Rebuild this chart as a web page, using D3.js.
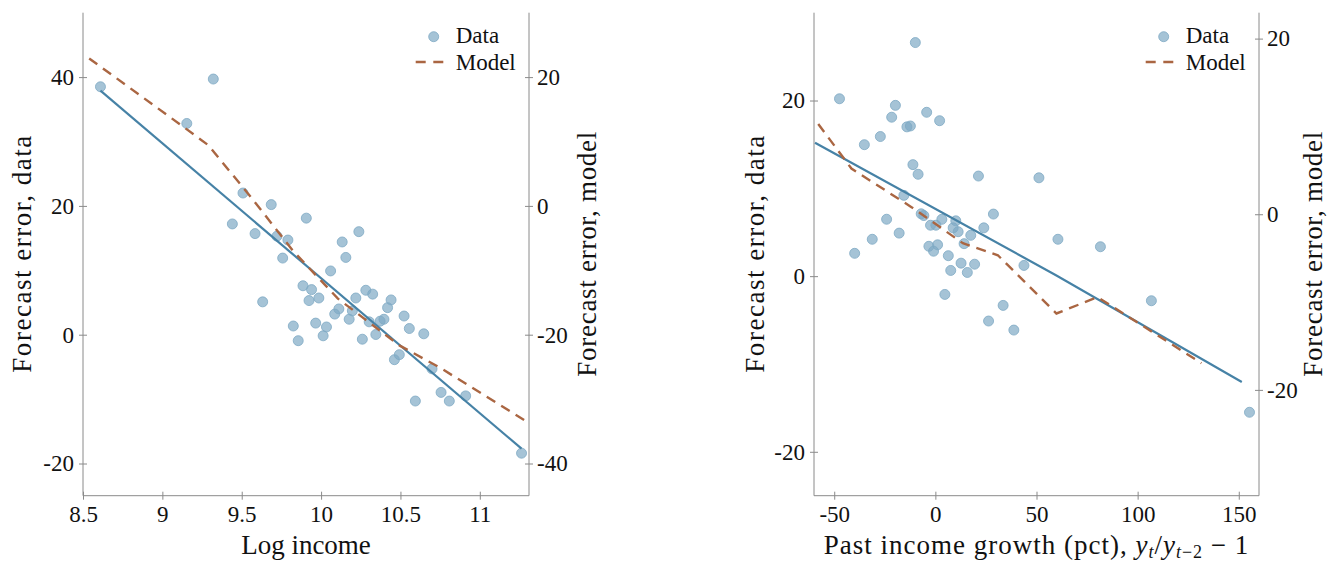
<!DOCTYPE html>
<html><head><meta charset="utf-8">
<script src="https://cdn.jsdelivr.net/npm/d3@7"></script>
<style>
html,body{margin:0;padding:0;background:#fff;}
svg text{font-family:"Liberation Serif","Times New Roman",serif;}
</style></head>
<body><svg id="c" width="1330" height="561"></svg>
<script>
// ---------- Left panel data ----------
const logIncome = [8.61,9.321,9.154,9.508,9.686,9.441,9.907,9.584,9.722,9.791,10.133,10.238,9.758,10.156,10.060,9.886,9.940,9.632,9.924,9.986,10.219,10.282,10.325,10.441,10.419,10.112,10.086,10.197,9.825,9.966,10.034,10.177,10.303,10.372,10.396,9.856,10.013,10.260,10.345,10.523,10.556,10.647,10.462,10.493,10.699,10.594,10.756,10.808,10.911,11.263];
const errDataL = [38.5,39.7,32.8,22.0,20.2,17.2,18.1,15.7,15.3,14.7,14.4,16.0,11.9,12.0,9.9,7.6,7.0,5.1,5.3,5.7,5.7,6.9,6.3,5.4,4.2,4.0,3.2,3.7,1.35,1.8,1.2,2.4,2.0,2.1,2.4,-0.93,-0.17,-0.70,0.03,2.9,0.96,0.14,-3.88,-3.10,-5.3,-10.3,-8.96,-10.3,-9.5,-18.4];
const fitXL = [8.61, 11.263];
const fitYL = [37.9, -17.7];
const modelXL = [8.539,9.137,9.288,9.552,9.823,10.106,10.496,10.748,11.302];
const modelYL = [22.9,12.2,9.46,1.55,-6.98,-14.4,-21.7,-25.1,-33.6];
const xTicksL = [8.5,9,9.5,10,10.5,11];
const yTicksL = [-20,0,20,40];
const y2TicksL = [-40,-20,0,20];

// ---------- Right panel data ----------
const growth = [-47.4,-9.9,-19.75,-21.6,-4.3,-14.07,-12.35,2.1,-27.2,-35.1,-11.1,-8.54,21.3,51.2,-15.56,-7.0,-5.7,3.2,10.1,28.7,-24.1,-2.4,0.25,8.8,11.26,23.95,17.5,-17.9,-31.2,60.6,81.6,-3.2,1.1,14.2,-39.9,-0.9,6.4,12.7,19.4,7.6,15.8,43.8,4.7,33.5,26.3,38.8,106.8,155.3];
const errDataR = [20.2,26.6,19.45,18.1,18.66,17.0,17.1,17.7,15.9,14.97,12.7,11.6,11.4,11.2,9.2,7.1,6.9,6.47,6.3,7.07,6.48,5.8,5.8,5.5,5.06,5.5,4.65,4.9,4.2,4.2,3.35,3.4,3.57,3.7,2.6,2.84,2.33,1.48,1.36,0.65,0.42,1.22,-2.08,-3.33,-5.11,-6.14,-2.8,-15.5];
const fitXR = [-59.5, 59.85, 151.5];
const fitYR = [15.2, 0.08, -12.05];
const modelXR = [-57.9,-41.5,-11.6,13.6,30.9,59.85,80.2,131.5];
const modelYR = [10.28,5.2,0.78,-3.3,-4.67,-11.3,-9.44,-16.96];
const xTicksR = [-50,0,50,100,150];
const yTicksR = [-20,0,20];
const y2TicksR = [-20,0,20];

const legendLabels = ["Data","Model"];

const FONT = '"Liberation Serif","Times New Roman",serif';
const COL_PT = "#7fa9c4", COL_LINE = "#4682a6", COL_MODEL = "#aa6642", COL_AX = "#8a8a8a";
const svg = d3.select("#c");
const plotTop = 12.7, plotBottom = 495.7;

function panel(o){
  const g = svg.append("g");
  const x = d3.scaleLinear().domain(o.xDom).range([o.x0, o.x1]);
  const y = d3.scaleLinear().domain(o.yDom).range([plotBottom, plotTop]);
  const y2 = d3.scaleLinear().domain(o.y2Dom).range([plotBottom, plotTop]);
  const fmt = d => (d<0?"-":"") + Math.abs(d);

  const ax = g.append("g").attr("transform",`translate(0,${plotBottom})`)
    .call(d3.axisBottom(x).tickValues(o.xTicks).tickFormat(fmt).tickSize(4).tickPadding(6));
  const ay = g.append("g").attr("transform",`translate(${o.x0},0)`)
    .call(d3.axisLeft(y).tickValues(o.yTicks).tickFormat(fmt).tickSize(4).tickPadding(5));
  const ay2 = g.append("g").attr("transform",`translate(${o.x1},0)`)
    .call(d3.axisRight(y2).tickValues(o.y2Ticks).tickFormat(fmt).tickSize(4).tickPadding(4));
  [ax,ay,ay2].forEach(a=>{
    a.attr("font-family",null).attr("font-size",null);
    a.select(".domain").remove();
    a.selectAll("text").style("font-family",FONT).style("font-size","23px").attr("fill","#111");
    a.selectAll("line").attr("stroke",COL_AX);
  });
  ax.selectAll(".tick line").attr("y1",-4).attr("y2",4);
  ay.selectAll(".tick line").attr("x1",-4).attr("x2",4);
  ay2.selectAll(".tick line").attr("x1",-4).attr("x2",4);
  // spines
  g.append("line").attr("x1",o.x0).attr("x2",o.x0).attr("y1",plotTop).attr("y2",plotBottom).attr("stroke",COL_AX);
  g.append("line").attr("x1",o.x1).attr("x2",o.x1).attr("y1",plotTop).attr("y2",plotBottom).attr("stroke",COL_AX);
  g.append("line").attr("x1",o.x0).attr("x2",o.x1).attr("y1",plotBottom).attr("y2",plotBottom).attr("stroke",COL_AX);

  // points
  g.append("g").selectAll("circle").data(o.px.map((v,i)=>[v,o.py[i]])).join("circle")
    .attr("cx",d=>x(d[0])).attr("cy",d=>y(d[1])).attr("r",5)
    .attr("fill",COL_PT).attr("fill-opacity",0.7).attr("stroke",COL_PT).attr("stroke-width",0.8);
  // fit
  const line = d3.line().x(d=>x(d[0])).y(d=>y(d[1]));
  g.append("path").attr("d",line(o.fx.map((v,i)=>[v,o.fy[i]])))
    .attr("fill","none").attr("stroke",COL_LINE).attr("stroke-width",2.2);
  // model (right axis)
  const line2 = d3.line().x(d=>x(d[0])).y(d=>y2(d[1]));
  g.append("path").attr("d",line2(o.mx.map((v,i)=>[v,o.my[i]])))
    .attr("fill","none").attr("stroke",COL_MODEL).attr("stroke-width",2.4).attr("stroke-dasharray","10,7");

  // legend
  const lx = o.x1 - 95.3;
  g.append("circle").attr("cx",lx).attr("cy",36.7).attr("r",5)
    .attr("fill",COL_PT).attr("fill-opacity",0.7).attr("stroke",COL_PT).attr("stroke-width",0.8);
  g.append("line").attr("x1",lx-18).attr("x2",lx+9.6).attr("y1",62).attr("y2",62)
    .attr("stroke",COL_MODEL).attr("stroke-width",2.4).attr("stroke-dasharray","10,7.6");
  g.selectAll("text.leg").data(legendLabels).join("text").attr("class","leg")
    .attr("x",lx+22).attr("y",(d,i)=>43+i*26.5).style("font-family",FONT).style("font-size","23px").attr("fill","#111").text(d=>d);

  // axis titles
  g.append("text").attr("transform",`translate(${o.yt},${(plotTop+plotBottom)/2}) rotate(-90)`)
    .attr("text-anchor","middle").style("font-family",FONT).style("font-size","27px").attr("fill","#111")
    .attr("textLength",237).attr("lengthAdjust","spacing").text("Forecast error, data");
  g.append("text").attr("transform",`translate(${o.y2t},${(plotTop+plotBottom)/2}) rotate(-90)`)
    .attr("text-anchor","middle").style("font-family",FONT).style("font-size","27px").attr("fill","#111")
    .attr("textLength",245).attr("lengthAdjust","spacing").text("Forecast error, model");
  const xt = g.append("text").attr("x",(o.x0+o.x1)/2).attr("y",554).attr("text-anchor","middle")
    .style("font-family",FONT).style("font-size","27px").attr("fill","#111");
  o.xTitle(xt);
}

panel({x0:83,x1:529,xDom:[8.5,11.31],yDom:[-25,50],y2Dom:[-45,30],
  xTicks:xTicksL,yTicks:yTicksL,y2Ticks:y2TicksL,
  px:logIncome,py:errDataL,fx:fitXL,fy:fitYL,mx:modelXL,my:modelYL,
  yt:31,y2t:596,
  xTitle:t=>t.text("Log income")});

panel({x0:814,x1:1259,xDom:[-60,160],yDom:[-25,30],y2Dom:[-32.05,22.95],
  xTicks:xTicksR,yTicks:yTicksR,y2Ticks:y2TicksR,
  px:growth,py:errDataR,fx:fitXR,fy:fitYR,mx:modelXR,my:modelYR,
  yt:764,y2t:1322,
  xTitle:t=>{
    t.style("letter-spacing","1px");
    t.append("tspan").text("Past income growth (pct), ");
    t.append("tspan").style("font-style","italic").text("y");
    t.append("tspan").style("font-style","italic").attr("dy",4).style("font-size","18px").text("t");
    t.append("tspan").attr("dy",-4).text("/");
    t.append("tspan").style("font-style","italic").text("y");
    t.append("tspan").style("font-style","italic").attr("dy",4).style("font-size","18px").text("t");
    t.append("tspan").style("font-size","18px").text("\u22122");
    t.append("tspan").attr("dy",-4).text(" \u2212 1");
  }});
</script></body></html>
